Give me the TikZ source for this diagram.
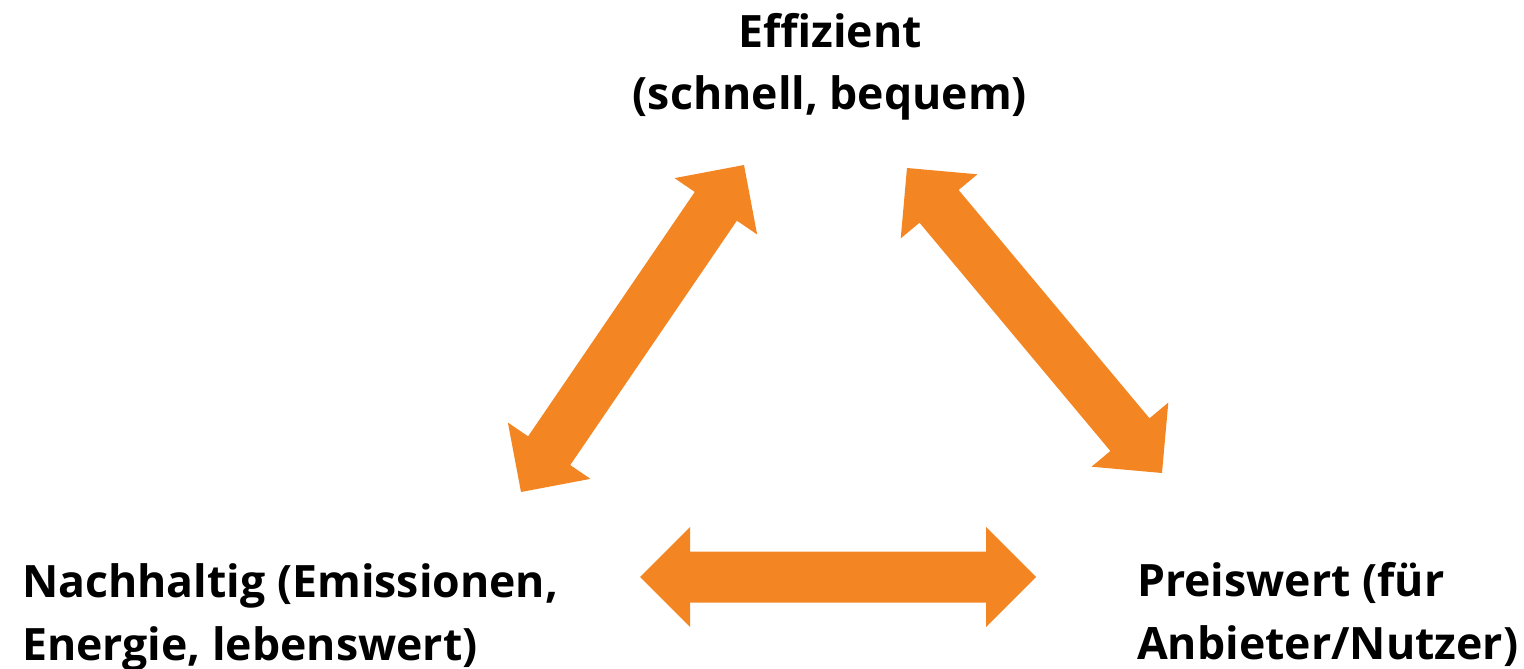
\documentclass[tikz,border=0pt]{standalone}
\usepackage{fontspec}
\setmainfont{Open Sans}
\usetikzlibrary{calc}
\definecolor{arroworange}{RGB}{243,134,35}
\tikzset{
  label text/.style={font=\bfseries\fontsize{44.6}{62.5}\selectfont, inner sep=0pt, text=black},
  arrowfill/.style={fill=arroworange}
}
\newcommand\dblarrow[2]{%
  \coordinate (h1) at ($(#1)!50pt!(#2)$);
  \coordinate (h2) at ($(#2)!50pt!(#1)$);
  \fill[arrowfill] (#1) -- ($(h1)!50pt!90:(#2)$) -- ($(h1)!25.5pt!90:(#2)$)
    -- ($(h2)!25.5pt!-90:(#1)$) -- ($(h2)!50pt!-90:(#1)$) -- (#2)
    -- ($(h2)!50pt!90:(#1)$) -- ($(h2)!25.5pt!90:(#1)$)
    -- ($(h1)!25.5pt!-90:(#2)$) -- ($(h1)!50pt!-90:(#2)$) -- cycle;
}
\begin{document}
\begin{tikzpicture}[x=1pt,y=-1pt]
\useasboundingbox (0,0) rectangle (1524,669);
% text (base anchor = baseline of the last line)
\node[label text, align=center, anchor=base] (eff) at (830,110) {Effizient\\(schnell, bequem)};
\node[label text, align=left, anchor=base west] (nach) at (22,660) {Nachhaltig (Emissionen,\\Energie, lebenswert)};
\node[label text, align=left, anchor=base west] (preis) at (1137,659) {Preiswert (für\\Anbieter/Nutzer)};
% arrow tips
\coordinate (la) at (521,492);
\coordinate (lb) at (744,165);
\coordinate (ra) at (907,168);
\coordinate (rb) at (1162,473);
\coordinate (ha) at (640,577);
\coordinate (hb) at (1036,577);
\dblarrow{la}{lb}
\dblarrow{ra}{rb}
\dblarrow{ha}{hb}
\end{tikzpicture}
\end{document}
